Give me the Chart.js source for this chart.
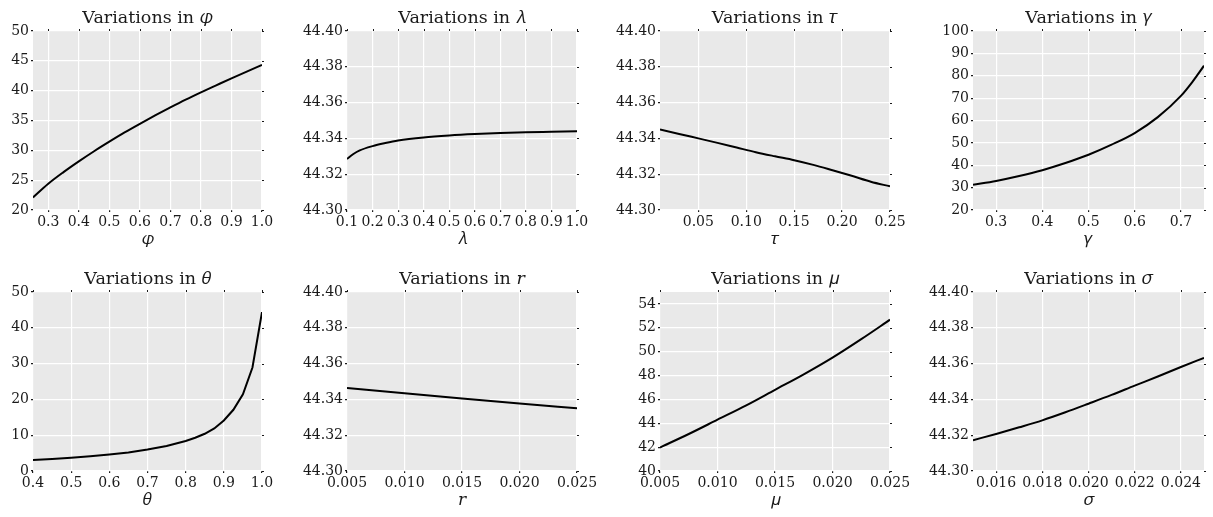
<!DOCTYPE html>
<html>
<head>
<meta charset="utf-8">
<script src="https://cdn.jsdelivr.net/npm/chart.js@4.4.1/dist/chart.umd.min.js"></script>
<style>
  body { margin: 0; background: #fff; width: 1213px; height: 517px; position: relative; overflow: hidden; }
  canvas { position: absolute; }
</style>
</head>
<body>
<canvas id="c0"></canvas>
<canvas id="c1"></canvas>
<canvas id="c2"></canvas>
<canvas id="c3"></canvas>
<canvas id="c4"></canvas>
<canvas id="c5"></canvas>
<canvas id="c6"></canvas>
<canvas id="c7"></canvas>
<script>
// Sensitivity sweeps
const phiX = [0.25, 0.3, 0.35, 0.4, 0.45, 0.5, 0.55, 0.6, 0.65, 0.7, 0.75, 0.8, 0.85, 0.9, 0.95, 1.0];
const phiY = [22.1, 24.4, 26.35, 28.15, 29.85, 31.45, 33.0, 34.45, 35.85, 37.2, 38.5, 39.72, 40.9, 42.07, 43.2, 44.3];
const phiTicksX = ['0.3', '0.4', '0.5', '0.6', '0.7', '0.8', '0.9', '1.0'];
const phiTicksY = ['20', '25', '30', '35', '40', '45', '50'];

const lambdaX = [0.1, 0.125, 0.15, 0.2, 0.25, 0.3, 0.4, 0.5, 0.6, 0.7, 0.8, 0.9, 1.0];
const lambdaY = [44.3285, 44.3313, 44.3333, 44.3357, 44.3374, 44.3388, 44.3405, 44.3416, 44.3424, 44.3430, 44.3434, 44.3437, 44.3440];
const lambdaTicksX = ['0.1', '0.2', '0.3', '0.4', '0.5', '0.6', '0.7', '0.8', '0.9', '1.0'];

const tauX = [0.01, 0.03, 0.05, 0.07, 0.09, 0.11, 0.13, 0.15, 0.17, 0.19, 0.21, 0.23, 0.25];
const tauY = [44.3450, 44.3425, 44.3400, 44.3375, 44.3349, 44.3323, 44.3300, 44.3278, 44.3252, 44.3222, 44.3191, 44.3158, 44.3132];
const tauTicksX = ['0.05', '0.10', '0.15', '0.20', '0.25'];

const gammaX = [0.25, 0.3, 0.35, 0.4, 0.45, 0.5, 0.55, 0.6, 0.65, 0.7, 0.725, 0.75];
const gammaY = [31.3, 33.0, 35.2, 37.8, 41.0, 44.7, 49.2, 54.4, 61.5, 71.0, 77.3, 84.5];
const gammaTicksX = ['0.3', '0.4', '0.5', '0.6', '0.7'];
const gammaTicksY = ['20', '30', '40', '50', '60', '70', '80', '90', '100'];

const thetaX = [0.4, 0.45, 0.5, 0.55, 0.6, 0.65, 0.7, 0.75, 0.8, 0.825, 0.85, 0.875, 0.9, 0.925, 0.95, 0.975, 1.0];
const thetaY = [3.1, 3.35, 3.7, 4.1, 4.6, 5.2, 6.0, 7.0, 8.4, 9.3, 10.4, 11.9, 14.1, 17.1, 21.4, 28.9, 44.4];
const thetaTicksX = ['0.4', '0.5', '0.6', '0.7', '0.8', '0.9', '1.0'];
const thetaTicksY = ['0', '10', '20', '30', '40', '50'];

const rX = [0.005, 0.010, 0.015, 0.020, 0.025];
const rY = [44.3464, 44.3434, 44.3405, 44.3377, 44.3350];
const smallTicksX = ['0.005', '0.010', '0.015', '0.020', '0.025'];

const muX = [0.005, 0.0075, 0.010, 0.0125, 0.015, 0.0175, 0.020, 0.0225, 0.025];
const muY = [41.97, 43.1, 44.3, 45.5, 46.8, 48.1, 49.5, 51.05, 52.68];
const muTicksY = ['40', '42', '44', '46', '48', '50', '52', '54'];

const sigmaX = [0.015, 0.016, 0.017, 0.018, 0.019, 0.020, 0.021, 0.022, 0.023, 0.024, 0.025];
const sigmaY = [44.3172, 44.3207, 44.3244, 44.3283, 44.3328, 44.3376, 44.3425, 44.3477, 44.3528, 44.3581, 44.3632];
const sigmaTicksX = ['0.016', '0.018', '0.020', '0.022', '0.024'];

const fineTicksY = ['44.30', '44.32', '44.34', '44.36', '44.38', '44.40'];

// Panel setup; symbols in math italic like the original mathtext
const panels = [
  { sym: '𝜑', xs: phiX, ys: phiY, xMin: 0.25, xMax: 1.0, yMin: 20, yMax: 50, tx: phiTicksX, ty: phiTicksY, col: 0, row: 0 },
  { sym: '𝜆', xs: lambdaX, ys: lambdaY, xMin: 0.1, xMax: 1.0, yMin: 44.30, yMax: 44.40, tx: lambdaTicksX, ty: fineTicksY, col: 1, row: 0 },
  { sym: '𝜏', xs: tauX, ys: tauY, xMin: 0.01, xMax: 0.25, yMin: 44.30, yMax: 44.40, tx: tauTicksX, ty: fineTicksY, col: 2, row: 0 },
  { sym: '𝛾', xs: gammaX, ys: gammaY, xMin: 0.25, xMax: 0.75, yMin: 20, yMax: 100, tx: gammaTicksX, ty: gammaTicksY, col: 3, row: 0 },
  { sym: '𝜃', xs: thetaX, ys: thetaY, xMin: 0.4, xMax: 1.0, yMin: 0, yMax: 50, tx: thetaTicksX, ty: thetaTicksY, col: 0, row: 1, straight: true },
  { sym: '𝑟', xs: rX, ys: rY, xMin: 0.005, xMax: 0.025, yMin: 44.30, yMax: 44.40, tx: smallTicksX, ty: fineTicksY, col: 1, row: 1 },
  { sym: '𝜇', xs: muX, ys: muY, xMin: 0.005, xMax: 0.025, yMin: 40, yMax: 55, tx: smallTicksX, ty: muTicksY, col: 2, row: 1 },
  { sym: '𝜎', xs: sigmaX, ys: sigmaY, xMin: 0.015, xMax: 0.025, yMin: 44.30, yMax: 44.40, tx: sigmaTicksX, ty: fineTicksY, col: 3, row: 1 }
];

const colLeft = [33, 347, 660, 973];
const colRight = [262, 577, 890, 1204];
const rowTop = [0, 261];
const titleH = 31;     // 17.5px * 1.2 + 8 + 2
const plotH = 179;
const xAxisH = 46;
const padRight = 26;

const serif = '"DejaVu Serif", "Liberation Serif", serif';
const ink = '#1a1a1a';

// gray panel background
const panelBg = {
  id: 'panelBg',
  beforeDraw(chart) {
    const { ctx, chartArea: a } = chart;
    ctx.save();
    ctx.fillStyle = '#e9e9e9';
    ctx.fillRect(a.left, a.top, a.right - a.left, a.bottom - a.top);
    ctx.restore();
  }
};

// small tick marks on the top and right spines
const mirrorTicks = {
  id: 'mirrorTicks',
  afterDraw(chart) {
    const { ctx, chartArea: a, scales } = chart;
    ctx.save();
    ctx.strokeStyle = ink;
    ctx.lineWidth = 1;
    ctx.beginPath();
    scales.x.ticks.forEach(t => {
      const px = Math.round(scales.x.getPixelForValue(t.value)) + 0.5;
      ctx.moveTo(px, a.top);
      ctx.lineTo(px, a.top - 2);
    });
    scales.y.ticks.forEach(t => {
      const py = Math.round(scales.y.getPixelForValue(t.value)) + 0.5;
      ctx.moveTo(a.right, py);
      ctx.lineTo(a.right + 2, py);
    });
    ctx.stroke();
    ctx.restore();
  }
};

panels.forEach((p, i) => {
  const yw = p.col === 0 ? 33 : 52;
  const canvas = document.getElementById('c' + i);
  const left = colLeft[p.col] - yw;
  canvas.width = colRight[p.col] - left + padRight;
  canvas.height = Math.round(titleH + plotH + xAxisH);
  canvas.style.left = left + 'px';
  canvas.style.top = rowTop[p.row] + 'px';

  new Chart(canvas, {
    type: 'line',
    data: {
      datasets: [{
        data: p.xs.map((x, k) => ({ x, y: p.ys[k] })),
        borderColor: '#000',
        borderWidth: 2,
        pointRadius: 0,
        cubicInterpolationMode: p.straight ? 'default' : 'monotone',
        tension: 0
      }]
    },
    options: {
      responsive: false,
      devicePixelRatio: 1,
      animation: false,
      events: [],
      layout: { padding: { left: 0, right: padRight, top: 0, bottom: 0 } },
      plugins: {
        legend: { display: false },
        tooltip: { enabled: false },
        title: {
          display: true,
          fullSize: false,
          text: 'Variations in ' + p.sym,
          color: ink,
          font: { family: serif, size: 17.5, weight: 'normal', lineHeight: 1.2 },
          padding: { top: 8, bottom: 2 }
        }
      },
      scales: {
        x: {
          type: 'linear',
          min: p.xMin,
          max: p.xMax,
          afterBuildTicks: s => { s.ticks = p.tx.map(l => ({ value: Number(l) })); },
          afterFit: s => { s.height = xAxisH; },
          border: { display: false },
          grid: { color: '#ffffff', lineWidth: 1.2, tickColor: ink, tickLength: 2 },
          ticks: {
            autoSkip: false,
            maxRotation: 0,
            padding: 2,
            color: ink,
            font: { family: serif, size: 14 },
            callback: (v, k) => p.tx[k]
          },
          title: {
            display: true,
            text: p.sym,
            color: ink,
            font: { family: serif, size: 17 },
            padding: { top: 4, bottom: 6 }
          }
        },
        y: {
          type: 'linear',
          min: p.yMin,
          max: p.yMax,
          afterBuildTicks: s => { s.ticks = p.ty.map(l => ({ value: Number(l) })); },
          afterFit: s => { s.width = yw; },
          border: { display: false },
          grid: { color: '#ffffff', lineWidth: 1.2, tickColor: ink, tickLength: 2 },
          ticks: {
            autoSkip: false,
            padding: 2,
            color: ink,
            font: { family: serif, size: 14 },
            callback: (v, k) => p.ty[k]
          }
        }
      }
    },
    plugins: [panelBg, mirrorTicks]
  });
});
</script>
</body>
</html>
